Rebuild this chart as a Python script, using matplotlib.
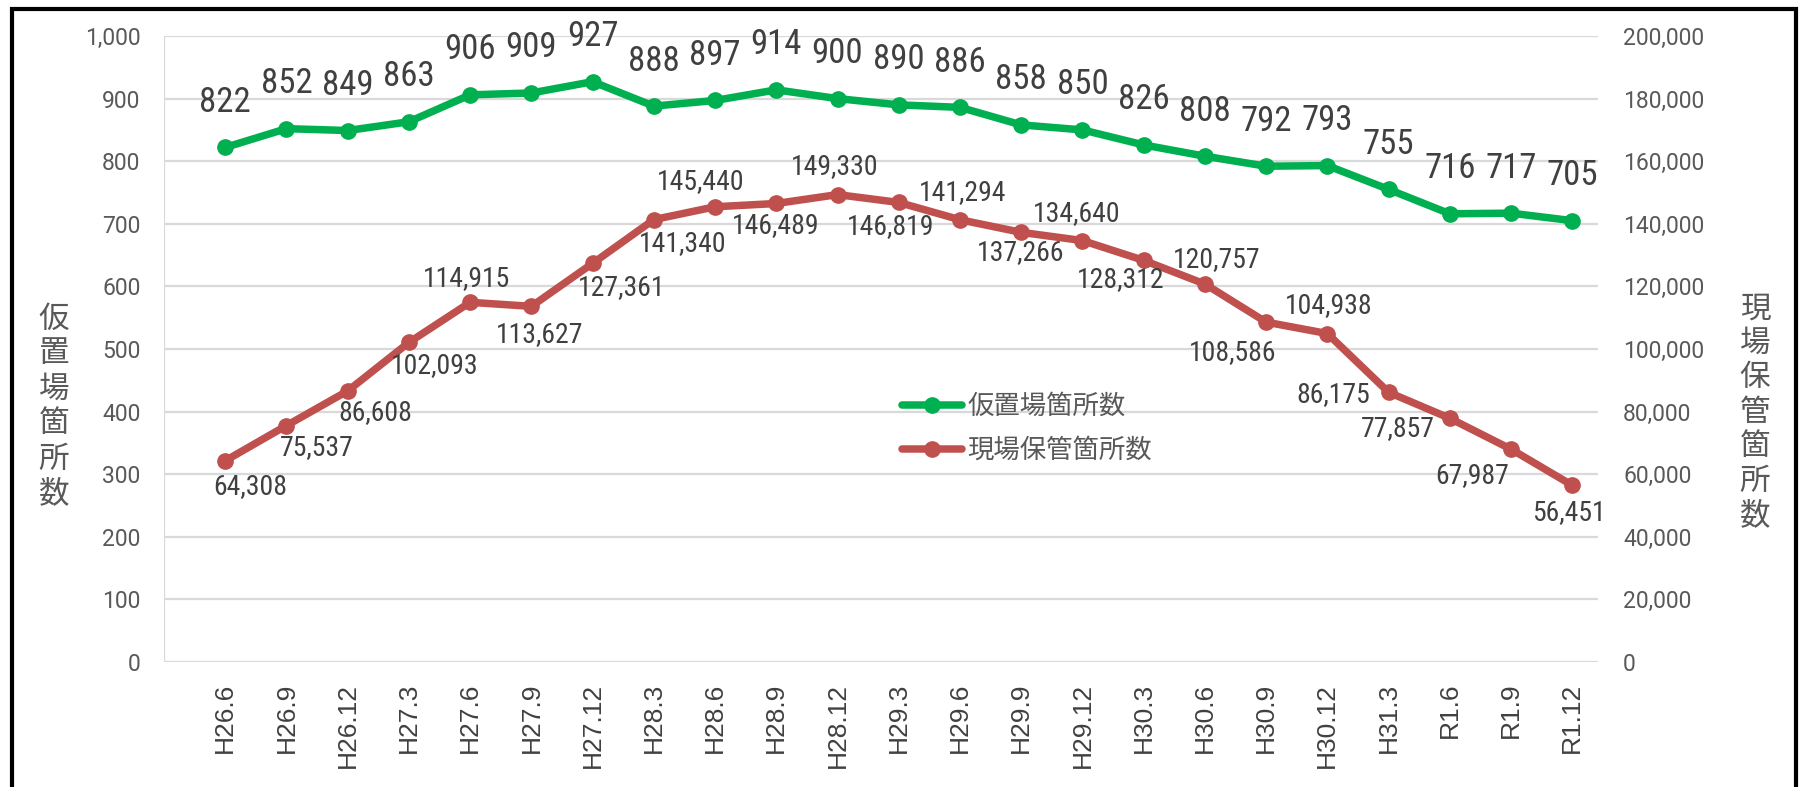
import matplotlib
matplotlib.use("Agg")
import matplotlib.pyplot as plt
from matplotlib import font_manager
from matplotlib.patches import Rectangle
from matplotlib.ticker import FuncFormatter, MultipleLocator, FixedLocator

# data
periods = ["H26.6", "H26.9", "H26.12", "H27.3", "H27.6", "H27.9", "H27.12",
           "H28.3", "H28.6", "H28.9", "H28.12", "H29.3", "H29.6", "H29.9",
           "H29.12", "H30.3", "H30.6", "H30.9", "H30.12", "H31.3",
           "R1.6", "R1.9", "R1.12"]
karioki = [822, 852, 849, 863, 906, 909, 927, 888, 897, 914, 900, 890,
           886, 858, 850, 826, 808, 792, 793, 755, 716, 717, 705]
genba = [64308, 75537, 86608, 102093, 114915, 113627, 127361, 141340,
         145440, 146489, 149330, 146819, 141294, 137266, 134640, 128312,
         120757, 108586, 104938, 86175, 77857, 67987, 56451]
name_k = "仮置場箇所数"
name_g = "現場保管箇所数"

# label offsets in pixels (dx, dy down), as placed in the original
red_offsets = [(25, 26), (30, 22), (28, 22), (26, 23), (-4, -24), (8, 28),
               (29, 24), (29, 24), (-14, -25), (-1, 22), (-3, -28), (-8, 24),
               (3, -27), (-1, 20), (-6, -27), (-23, 19), (12, -24), (-34, 30),
               (1, -28), (-55, 2), (-52, 10), (-39, 26), (-3, 27)]


def pick_narrow():
    for fam in ["Liberation Sans Narrow", "Roboto Condensed", "Open Sans Condensed",
                "Noto Sans Condensed"]:
        try:
            font_manager.findfont(font_manager.FontProperties(family=fam),
                                  fallback_to_default=False)
            return fam, 1.0
        except Exception:
            pass
    return "Roboto", 0.0


NARROW, is_narrow = pick_narrow()
JP = "Noto Sans CJK JP"
GREEN = "#00B050"
RED = "#C0504D"
GRID = "#D9D9D9"
TXT = "#595959"
DARK = "#404040"

green_fs = 25 if is_narrow else 20.5
red_fs = 20 if is_narrow else 17.5

W, H = 1801, 787
fig = plt.figure(figsize=(W / 100, H / 100), dpi=100)
ax = fig.add_axes([164 / W, (H - 662) / H, (1598 - 164) / W, (662 - 36) / H])
ax2 = ax.twinx()

x = list(range(len(periods)))
ax.plot(x, karioki, color=GREEN, lw=5.4, marker="o", ms=11, label=name_k,
        solid_capstyle="round", zorder=3)
ax2.plot(x, genba, color=RED, lw=5.4, marker="o", ms=11, label=name_g,
         solid_capstyle="round", zorder=3)

ax.set_xlim(-1, 22.42)
ax.set_ylim(0, 1000)
ax2.set_ylim(0, 200000)

ax.yaxis.set_major_locator(MultipleLocator(100))
ax2.yaxis.set_major_locator(MultipleLocator(20000))
fmt = FuncFormatter(lambda v, p: f"{int(v):,}")
ax.yaxis.set_major_formatter(fmt)
ax2.yaxis.set_major_formatter(fmt)

ax.set_xticks(x)
ax.set_xticklabels(periods, rotation=90, fontsize=19, color=DARK,
                   family="Liberation Sans")
ax.xaxis.set_minor_locator(FixedLocator([-1, 3, 7, 11, 15, 19]))
ax.grid(axis="y", which="major", color=GRID, lw=1.6, zorder=0)
ax.grid(axis="x", which="minor", color=GRID, lw=1.6, zorder=0)
ax.set_axisbelow(True)

ax.tick_params(axis="x", which="both", length=0, pad=15)
ax.tick_params(axis="y", length=0, pad=17, labelsize=16.5, labelcolor=TXT)
ax2.tick_params(axis="y", length=0, pad=18, labelsize=16.5, labelcolor=TXT)
for lab in ax.get_yticklabels() + ax2.get_yticklabels():
    lab.set_family("Roboto")

for a in (ax, ax2):
    for s in a.spines.values():
        s.set_visible(False)

# data labels
for i, v in enumerate(karioki):
    ax.annotate(f"{v:,}", (i, v), xytext=(0, 45), textcoords="offset pixels",
                ha="center", va="center", fontsize=green_fs, color=DARK, family=NARROW)
for i, v in enumerate(genba):
    dx, dy = red_offsets[i]
    ax2.annotate(f"{v:,}", (i, v), xytext=(dx, -dy), textcoords="offset pixels",
                 ha="center", va="center", fontsize=red_fs, color=DARK, family=NARROW)

# stacked axis titles
for k, ch in enumerate(name_k):
    fig.text(54 / W, 1 - (319 + k * 35) / H, ch, ha="center", va="center",
             fontsize=22, color=TXT, family=JP)
for k, ch in enumerate(name_g):
    fig.text(1755 / W, 1 - (309 + k * 34.5) / H, ch, ha="center", va="center",
             fontsize=22, color=TXT, family=JP)

# legend
h1, l1 = ax.get_legend_handles_labels()
h2, l2 = ax2.get_legend_handles_labels()
leg = ax2.legend(h1 + h2, l1 + l2, loc="upper left",
                 bbox_to_anchor=(902 / W, 1 - 393 / H),
                 bbox_transform=fig.transFigure, frameon=False,
                 borderpad=0, borderaxespad=0, handlelength=2.27,
                 handletextpad=0.2, labelspacing=0.65,
                 prop={"family": JP, "size": 19})
for t in leg.get_texts():
    t.set_color(TXT)

# outer frame
fig.patches.append(Rectangle((12 / W, -0.1), (1796 - 12) / W, 1.1 - 9 / H,
                             transform=fig.transFigure, fill=False,
                             lw=3, edgecolor="black", clip_on=False))

fig.savefig("out.png", dpi=100)
